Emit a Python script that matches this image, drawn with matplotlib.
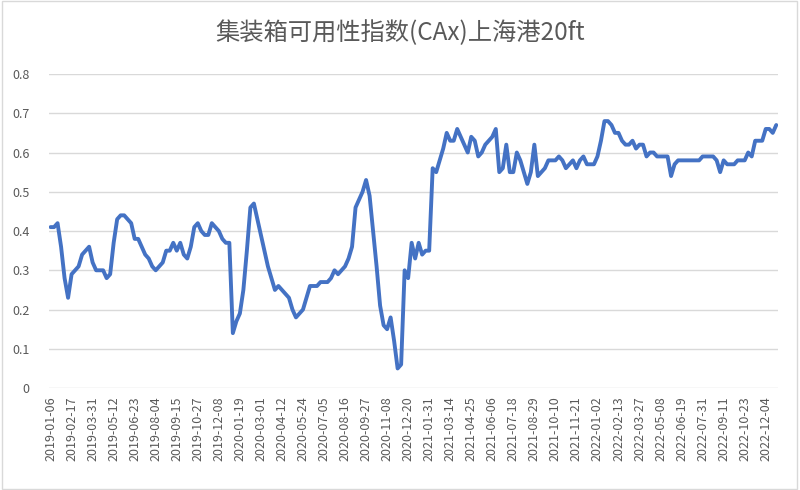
import matplotlib
matplotlib.use("Agg")
import matplotlib.pyplot as plt
from matplotlib.patches import Rectangle
import pandas as pd

plt.rcParams['font.family'] = ['Noto Sans CJK SC', 'DejaVu Sans']

title = "集装箱可用性指数(CAx)上海港20ft"

dates = pd.date_range("2019-01-06", periods=208, freq="7D")
cax = [
    0.41, 0.41, 0.42, 0.36, 0.28, 0.23, 0.29, 0.30, 0.31, 0.34,
    0.35, 0.36, 0.32, 0.30, 0.30, 0.30, 0.28, 0.29, 0.37, 0.43,
    0.44, 0.44, 0.43, 0.42, 0.38, 0.38, 0.36, 0.34, 0.33, 0.31,
    0.30, 0.31, 0.32, 0.35, 0.35, 0.37, 0.35, 0.37, 0.34, 0.33,
    0.36, 0.41, 0.42, 0.40, 0.39, 0.39, 0.42, 0.41, 0.40, 0.38,
    0.37, 0.37, 0.14, 0.17, 0.19, 0.25, 0.35, 0.46, 0.47, 0.43,
    0.39, 0.35, 0.31, 0.28, 0.25, 0.26, 0.25, 0.24, 0.23, 0.20,
    0.18, 0.19, 0.20, 0.23, 0.26, 0.26, 0.26, 0.27, 0.27, 0.27,
    0.28, 0.30, 0.29, 0.30, 0.31, 0.33, 0.36, 0.46, 0.48, 0.50,
    0.53, 0.49, 0.40, 0.31, 0.21, 0.16, 0.15, 0.18, 0.12, 0.05,
    0.06, 0.30, 0.28, 0.37, 0.33, 0.37, 0.34, 0.35, 0.35, 0.56,
    0.55, 0.58, 0.61, 0.65, 0.63, 0.63, 0.66, 0.64, 0.62, 0.60,
    0.64, 0.63, 0.59, 0.60, 0.62, 0.63, 0.64, 0.66, 0.55, 0.56,
    0.62, 0.55, 0.55, 0.60, 0.58, 0.55, 0.52, 0.55, 0.62, 0.54,
    0.55, 0.56, 0.58, 0.58, 0.58, 0.59, 0.58, 0.56, 0.57, 0.58,
    0.56, 0.58, 0.59, 0.57, 0.57, 0.57, 0.59, 0.63, 0.68, 0.68,
    0.67, 0.65, 0.65, 0.63, 0.62, 0.62, 0.63, 0.61, 0.62, 0.62,
    0.59, 0.60, 0.60, 0.59, 0.59, 0.59, 0.59, 0.54, 0.57, 0.58,
    0.58, 0.58, 0.58, 0.58, 0.58, 0.58, 0.59, 0.59, 0.59, 0.59,
    0.58, 0.55, 0.58, 0.57, 0.57, 0.57, 0.58, 0.58, 0.58, 0.60,
    0.59, 0.63, 0.63, 0.63, 0.66, 0.66, 0.65, 0.67,
]
yticks = [0, 0.1, 0.2, 0.3, 0.4, 0.5, 0.6, 0.7, 0.8]

fig = plt.figure(figsize=(8, 4.9), dpi=100)
ax = fig.add_axes([0.061, 0.208, 0.9115, 0.641])

x = list(range(len(cax)))
ax.plot(x, cax, color="#4472C4", linewidth=2.8, solid_joinstyle="round",
        solid_capstyle="round")

ax.set_xlim(-0.5, len(cax) - 0.5)
ax.set_ylim(0, 0.8)
ax.set_yticks(yticks)
ax.set_yticklabels(["0" if v == 0 else f"{v:.1f}" for v in yticks])

tick_pos = x[::6]
ax.set_xticks(tick_pos)
ax.set_xticklabels([dates[i].strftime("%Y-%m-%d") for i in tick_pos], rotation=90)

ax.grid(axis="y", color="#d9d9d9", linewidth=1)
ax.set_axisbelow(True)
for s in ax.spines.values():
    s.set_visible(False)
ax.tick_params(axis="both", length=0, colors="#595959", labelsize=9)
ax.tick_params(axis="y", pad=14)
ax.tick_params(axis="x", pad=6)

fig.text(0.5, 0.932, title, ha="center", va="center", fontsize=17.5, color="#595959")

fig.patches.append(Rectangle((0.002, 0.003), 0.994, 0.994, transform=fig.transFigure,
                             fill=False, edgecolor="#d9d9d9", linewidth=1))

fig.savefig("out.png", dpi=100)
